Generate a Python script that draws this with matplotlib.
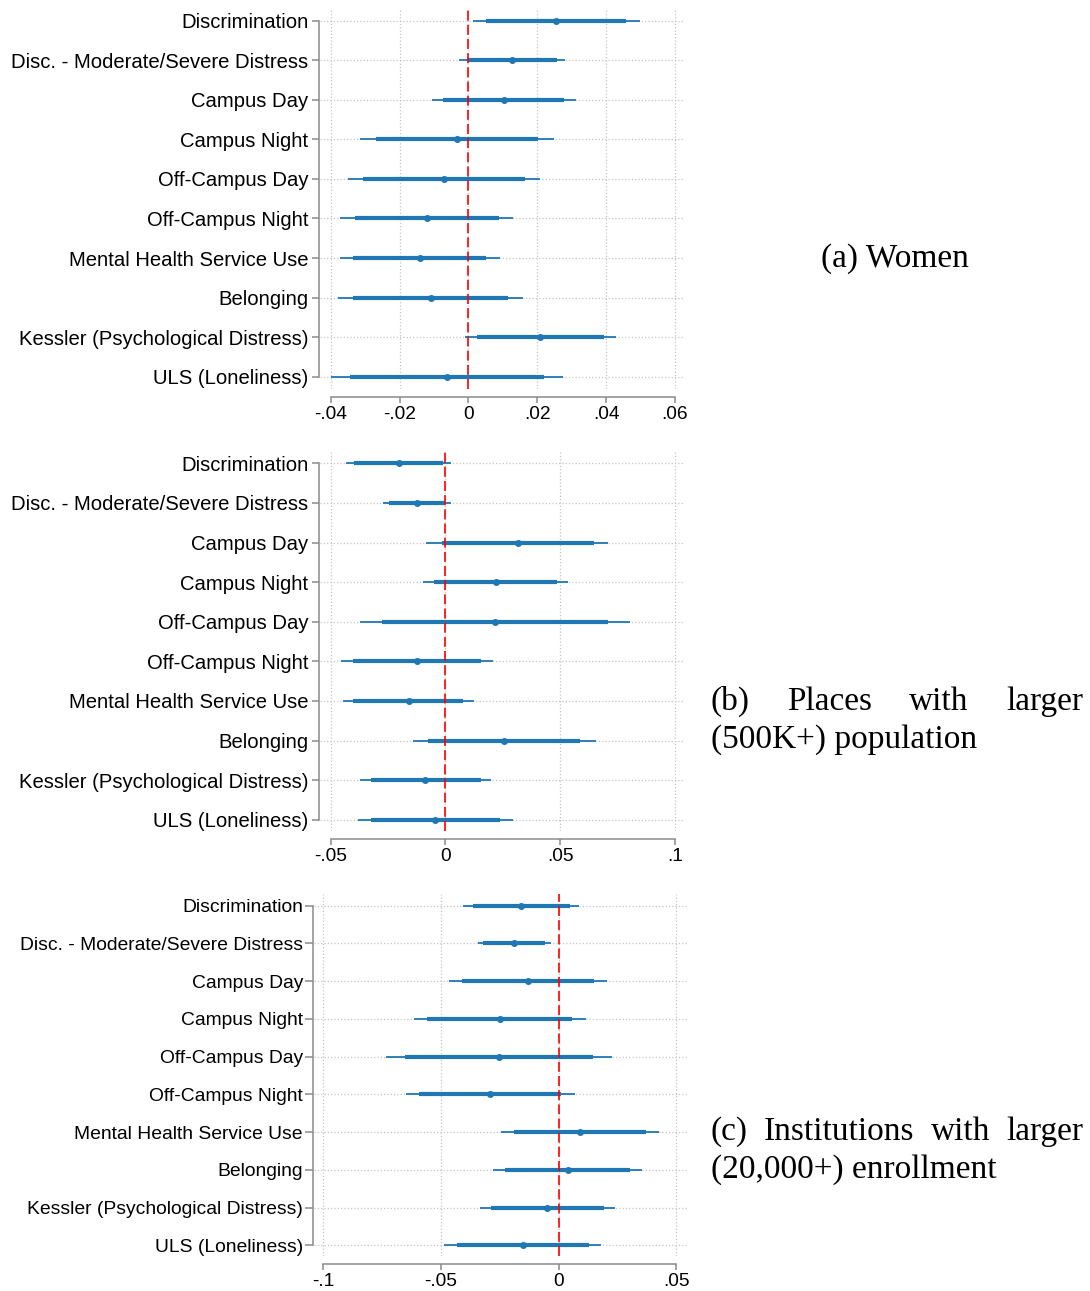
import numpy as np
import matplotlib.pyplot as plt

plt.rcParams['font.family'] = ['Liberation Sans', 'DejaVu Sans']

labels = ['Discrimination', 'Disc. - Moderate/Severe Distress', 'Campus Day',
          'Campus Night', 'Off-Campus Day', 'Off-Campus Night',
          'Mental Health Service Use', 'Belonging',
          'Kessler (Psychological Distress)', 'ULS (Loneliness)']

# (a) Women
a_pt = [0.0255, 0.0127, 0.0103, -0.0033, -0.0071, -0.0121, -0.0142, -0.0110, 0.0209, -0.0063]
a_lo95 = [0.0013, -0.0026, -0.0106, -0.0316, -0.0350, -0.0372, -0.0374, -0.0378, -0.0010, -0.0399]
a_hi95 = [0.0497, 0.0281, 0.0313, 0.0250, 0.0209, 0.0130, 0.0091, 0.0158, 0.0429, 0.0275]
a_lo90 = [0.0052, 0.0000, -0.0073, -0.0269, -0.0305, -0.0330, -0.0334, -0.0334, 0.0025, -0.0345]
a_hi90 = [0.0457, 0.0256, 0.0279, 0.0203, 0.0165, 0.0090, 0.0052, 0.0114, 0.0393, 0.0220]
a_ticks = [-0.04, -0.02, 0, 0.02, 0.04, 0.06]
a_ticklabels = ['-.04', '-.02', '0', '.02', '.04', '.06']

# (b) Places with larger (500K+) population
b_pt = [-0.0203, -0.0124, 0.0314, 0.0218, 0.0215, -0.0124, -0.0161, 0.0256, -0.0087, -0.0044]
b_lo95 = [-0.0433, -0.0270, -0.0084, -0.0100, -0.0371, -0.0453, -0.0445, -0.0140, -0.0374, -0.0381]
b_hi95 = [0.0026, 0.0023, 0.0709, 0.0535, 0.0802, 0.0208, 0.0124, 0.0654, 0.0198, 0.0294]
b_lo90 = [-0.0397, -0.0244, -0.0017, -0.0048, -0.0275, -0.0401, -0.0401, -0.0076, -0.0326, -0.0326]
b_hi90 = [-0.0010, 0.0000, 0.0645, 0.0484, 0.0706, 0.0156, 0.0077, 0.0587, 0.0153, 0.0238]
b_ticks = [-0.05, 0, 0.05, 0.1]
b_ticklabels = ['-.05', '0', '.05', '.1']

# (c) Institutions with larger (20,000+) enrollment
c_pt = [-0.0159, -0.0190, -0.0130, -0.0251, -0.0254, -0.0290, 0.0092, 0.0040, -0.0048, -0.0152]
c_lo95 = [-0.0407, -0.0344, -0.0465, -0.0616, -0.0732, -0.0650, -0.0244, -0.0279, -0.0333, -0.0486]
c_hi95 = [0.0088, -0.0034, 0.0205, 0.0116, 0.0227, 0.0071, 0.0428, 0.0356, 0.0238, 0.0181]
c_lo90 = [-0.0365, -0.0320, -0.0409, -0.0559, -0.0654, -0.0592, -0.0188, -0.0227, -0.0288, -0.0431]
c_hi90 = [0.0050, -0.0057, 0.0152, 0.0057, 0.0146, 0.0011, 0.0373, 0.0305, 0.0191, 0.0127]
c_ticks = [-0.1, -0.05, 0, 0.05]
c_ticklabels = ['-.1', '-.05', '0', '.05']

W, H = 1090, 1291
fig = plt.figure(figsize=(W / 100, H / 100), dpi=100)
blue = '#1f77b4'


def panel(box, ylim_px, ticks, ticklabels, xpx, pt, lo95, hi95, lo90, hi90,
          fs=14.6, xfs=13.8, pad=2.5, tlen=4.7):
    # box: left, right, top, bottom in pixels
    l, r, t, b = box
    ax = fig.add_axes([l / W, 1 - b / H, (r - l) / W, (b - t) / H])
    x0, x1 = xpx
    scale = (ticks[-1] - ticks[0]) / (x1 - x0)
    ax.set_xlim(ticks[0] - (x0 - l) * scale, ticks[-1] + (r - x1) * scale)
    y0, y1 = ylim_px
    ys = 9 / (y1 - y0)
    ax.set_ylim(9 + (b - y1) * ys, -(y0 - t) * ys)
    y = np.arange(len(labels))
    ax.hlines(y, lo95, hi95, color=blue, lw=1.3, zorder=3)
    ax.hlines(y, lo90, hi90, color=blue, lw=3.0, zorder=4)
    ax.plot(pt, y, 'o', color=blue, ms=4, zorder=5)
    ax.axvline(0, color='red', lw=1.2, ls=(0, (6, 2.5)), zorder=6)
    ax.set_yticks(y)
    ax.set_yticklabels(labels)
    ax.set_xticks(ticks)
    ax.set_xticklabels(ticklabels)
    ax.grid(True, ls=':', color='#c4c4c4', lw=0.9, zorder=0)
    for s in ['top', 'right']:
        ax.spines[s].set_visible(False)
    ax.spines['left'].set_bounds(0, 9)
    ax.spines['bottom'].set_bounds(ticks[0], ticks[-1])
    ax.spines['left'].set_position(('outward', 1))
    ax.spines['bottom'].set_position(('outward', 6))
    for s in ['left', 'bottom']:
        ax.spines[s].set_color('#8a8a8a')
        ax.spines[s].set_linewidth(1.1)
    ax.tick_params(axis='y', length=tlen, width=1.1, color='#8a8a8a', pad=pad,
                   labelsize=fs)
    ax.tick_params(axis='x', length=4, width=1.1, color='#8a8a8a', pad=2,
                   labelsize=xfs)
    return ax


panel((320, 685, 9, 389), (20.7, 376.7), a_ticks, a_ticklabels, (330.7, 675),
      a_pt, a_lo95, a_hi95, a_lo90, a_hi90)
panel((320, 685, 452, 831), (463.3, 819.7), b_ticks, b_ticklabels, (330.7, 675),
      b_pt, b_lo95, b_hi95, b_lo90, b_hi90)
panel((314, 687, 894, 1256), (905.7, 1245.3), c_ticks, c_ticklabels, (323.3, 676.3),
      c_pt, c_lo95, c_hi95, c_lo90, c_hi90, fs=13.9, xfs=13.8, pad=1.5, tlen=5.5)

serif = dict(family=['Liberation Serif', 'DejaVu Serif'], fontsize=24,
             va='baseline', ha='left')
renderer = fig.canvas.get_renderer()


def justified(text, x0, x1, base):
    # spread the words of one line from x0 to x1 (pixels)
    ws = [fig.text(0, 1 - base / H, w, **serif) for w in text.split()]
    widths = [t.get_window_extent(renderer).width for t in ws]
    gap = (x1 - x0 - sum(widths)) / (len(ws) - 1)
    x = x0
    for t, w in zip(ws, widths):
        t.set_x(x / W)
        x += w + gap


fig.text(821 / W, 1 - 267 / H, '(a) Women', **serif)
justified('(b) Places with larger', 711, 1083, 710)
fig.text(711 / W, 1 - 748 / H, '(500K+) population', **serif)
justified('(c) Institutions with larger', 711, 1083, 1140)
fig.text(711 / W, 1 - 1178 / H, '(20,000+) enrollment', **serif)

fig.savefig('out.png', dpi=100)
